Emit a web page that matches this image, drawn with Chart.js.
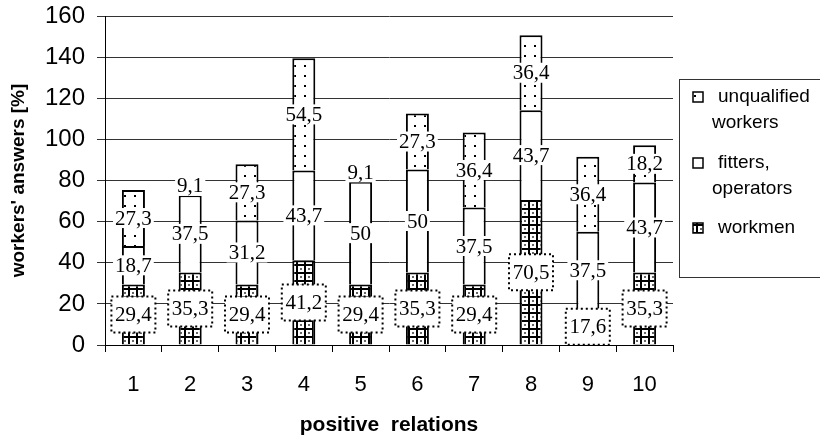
<!DOCTYPE html>
<html>
<head>
<meta charset="utf-8">
<script src="https://cdn.jsdelivr.net/npm/chart.js@4/dist/chart.umd.min.js"></script>
<style>
  html, body { margin: 0; padding: 0; background: #fff; }
  #wrap { width: 820px; height: 438px; }
</style>
</head>
<body>
<div id="wrap"><canvas id="c" width="820" height="438"></canvas></div>
<script>
// Answers per group of positive relations (stacked, %)
const categories = ['1', '2', '3', '4', '5', '6', '7', '8', '9', '10'];
const workmen     = [29.4, 35.3, 29.4, 41.2, 29.4, 35.3, 29.4, 70.5, 17.6, 35.3];
const fitters     = [18.7, 37.5, 31.2, 43.7, 50, 50, 37.5, 43.7, 37.5, 43.7];
const unqualified = [27.3, 9.1, 27.3, 54.5, 9.1, 27.3, 36.4, 36.4, 36.4, 18.2];
const seriesNames = ['workmen', 'fitters, operators', 'unqualified workers'];
const legendLines = [['unqualified', 'workers'], ['fitters,', 'operators'], ['workmen']];

const SANS = "'Liberation Sans', Arial, sans-serif";
const SERIF = "'Liberation Serif', 'Times New Roman', serif";

// Fill patterns: grid with dots for workmen, sparse dots for unqualified workers
function makePattern(size, painter) {
  const cv = document.createElement('canvas');
  cv.width = size; cv.height = size;
  const g = cv.getContext('2d');
  g.fillStyle = '#fff';
  g.fillRect(0, 0, size, size);
  painter(g);
  return document.getElementById('c').getContext('2d').createPattern(cv, 'repeat');
}
const gridPattern = makePattern(8, g => {
  g.fillStyle = '#000';
  g.fillRect(0, 0, 8, 2);
  g.fillRect(0, 0, 2, 8);
  g.fillStyle = '#666';
  g.fillRect(4, 4, 2, 2);
});
const dotPattern = makePattern(10, g => {
  g.fillStyle = '#000';
  g.fillRect(4, 5, 2, 2);
});

const fmt = v => String(v).replace('.', ',');

// Value labels centred on each stacked segment
const valueLabels = {
  id: 'valueLabels',
  afterDatasetsDraw(chart) {
    const ctx = chart.ctx;
    ctx.save();
    ctx.font = '21px ' + SERIF;
    ctx.textAlign = 'center';
    ctx.textBaseline = 'middle';
    chart.data.datasets.forEach((ds, d) => {
      const meta = chart.getDatasetMeta(d);
      meta.data.forEach((el, j) => {
        const v = ds.data[j];
        const cx = el.x;
        const cy = (el.y + el.base) / 2;
        const txt = fmt(v);
        if (d === 0) {
          const w = 44, h = 36;
          ctx.fillStyle = '#fff';
          ctx.fillRect(cx - w / 2, cy - h / 2, w, h);
          ctx.strokeStyle = '#000';
          ctx.lineWidth = 2;
          ctx.setLineDash([2, 3]);
          ctx.strokeRect(cx - w / 2, cy - h / 2, w, h);
          ctx.setLineDash([]);
        } else {
          const w = ctx.measureText(txt).width + 4, h = 20;
          ctx.fillStyle = '#fff';
          ctx.fillRect(cx - w / 2, cy - h / 2, w, h);
        }
        ctx.fillStyle = '#000';
        ctx.fillText(txt, cx, cy + 1);
      });
    });
    ctx.restore();
  }
};

// Boxed legend at the right of the plot
const boxLegend = {
  id: 'boxLegend',
  afterDraw(chart) {
    const ctx = chart.ctx;
    ctx.save();
    ctx.strokeStyle = '#333';
    ctx.lineWidth = 1;
    ctx.strokeRect(679.5, 79.5, 160, 198);
    const order = [2, 1, 0];
    const rowY = [97, 163, 228];
    ctx.font = '19px ' + SANS;
    ctx.textBaseline = 'middle';
    ctx.textAlign = 'left';
    order.forEach((d, i) => {
      const ds = chart.data.datasets[d];
      const y = rowY[i];
      ctx.fillStyle = ds.backgroundColor;
      ctx.fillRect(693, y - 5, 10, 10);
      ctx.strokeStyle = '#000';
      ctx.lineWidth = 1.5;
      ctx.strokeRect(693, y - 5, 10, 10);
      ctx.fillStyle = '#000';
      legendLines[i].forEach((line, k) => {
        ctx.fillText(line, k === 0 ? 718 : 712, y + k * 26);
      });
    });
    ctx.restore();
  }
};

const common = {
  borderColor: '#000',
  borderWidth: 2,
  barPercentage: 0.405,
  categoryPercentage: 1
};

new Chart(document.getElementById('c'), {
  type: 'bar',
  data: {
    labels: categories,
    datasets: [
      Object.assign({ label: seriesNames[0], data: workmen, backgroundColor: gridPattern }, common),
      Object.assign({ label: seriesNames[1], data: fitters, backgroundColor: '#fff' }, common),
      Object.assign({ label: seriesNames[2], data: unqualified, backgroundColor: dotPattern }, common)
    ]
  },
  options: {
    responsive: false,
    animation: false,
    devicePixelRatio: 1,
    layout: { padding: { left: 0, right: 147, top: 16, bottom: 0 } },
    plugins: { legend: { display: false }, tooltip: { enabled: false } },
    scales: {
      x: {
        stacked: true,
        grid: { offset: true, drawOnChartArea: false, tickLength: 7, color: '#000', lineWidth: 1 },
        border: { color: '#000', width: 1 },
        ticks: { font: { family: SANS, size: 22 }, color: '#000', padding: 20 },
        title: {
          display: true, text: 'positive  relations', color: '#000',
          font: { family: SANS, size: 21, weight: 'bold' }, padding: { top: 0, bottom: 0 }
        },
        afterFit(s) { s.height = 93; s.paddingLeft = 0; s.paddingRight = 0; }
      },
      y: {
        stacked: true,
        min: 0, max: 160,
        ticks: { stepSize: 20, font: { family: SANS, size: 24 }, color: '#000', padding: 12 },
        grid: { color: '#333', lineWidth: 1, tickLength: 8 },
        border: { color: '#000', width: 1 },
        title: {
          display: true, text: "workers' answers [%]", color: '#000',
          font: { family: SANS, size: 19, weight: 'bold' }, padding: { top: 7, bottom: 0 }
        },
        afterFit(s) { s.width = 105; s.paddingTop = 0; s.paddingBottom = 0; }
      }
    }
  },
  plugins: [valueLabels, boxLegend]
});
</script>
</body>
</html>
